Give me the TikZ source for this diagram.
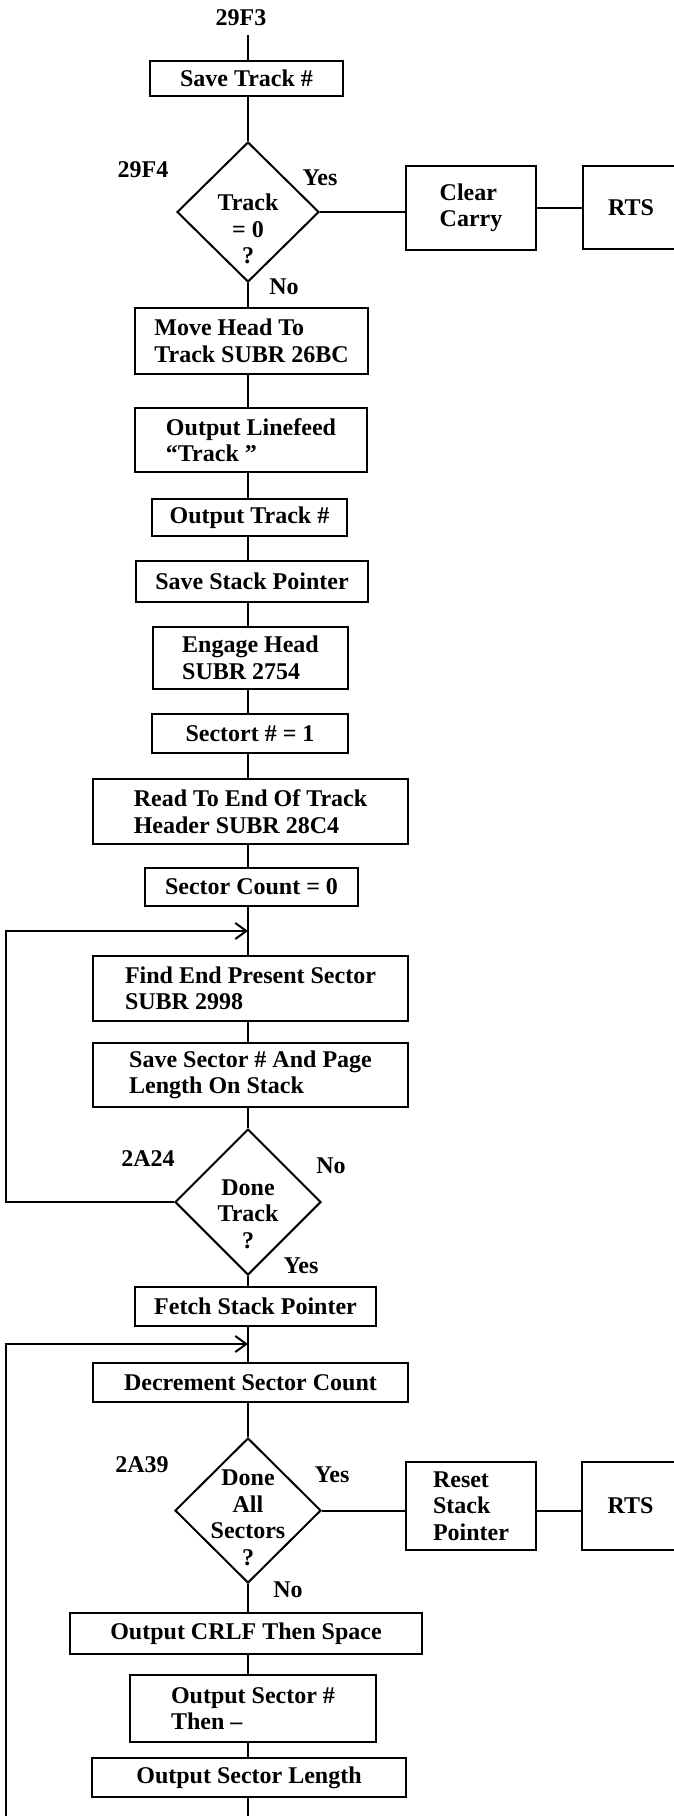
\documentclass[tikz,border=0pt]{standalone}
\usepackage{fontspec}
\setmainfont{Liberation Serif}
\usetikzlibrary{shapes.geometric,arrows.meta}
\begin{document}
\begin{tikzpicture}[x=1pt,y=-1pt,
  every node/.style={font=\bfseries\fontsize{24}{26.5}\selectfont},
  stepbox/.style={draw,line width=2pt,inner sep=0pt,align=left},
  decbox/.style={draw,shape=diamond,line width=2pt,inner sep=0pt},
  lbl/.style={inner sep=0pt,align=center},
  conn/.style={line width=2pt},
  loopar/.style={line width=2pt,-{Straight Barb[length=11pt,width=16pt,line width=2pt]}}]
\useasboundingbox (0,0) rectangle (674,1816);
\coordinate (ax) at (248,0);
% labels
\node[lbl] (l29f3) at (241,18) {29F3};
\node[lbl] (l29f4) at (143,170) {29F4};
\node[lbl] (y1) at (320,178) {Yes};
\node[lbl] (n1) at (284,287) {No};
\node[lbl] (l2a24) at (148,1159) {2A24};
\node[lbl] (n2) at (331,1166) {No};
\node[lbl] (y2) at (301,1266) {Yes};
\node[lbl] (l2a39) at (142,1465) {2A39};
\node[lbl] (y3) at (332,1475) {Yes};
\node[lbl] (n3) at (288,1590) {No};
\coordinate (top) at (248,35);
% boxes
\node[stepbox,minimum width=193,minimum height=35] (save) at (246.5,78.5) {Save Track \#};
\node[decbox,minimum width=142,minimum height=140] (d1) at (248,212) {};
\node[lbl] (d1t) at (248,229) {Track\\= 0\\?};
\node[stepbox,minimum width=130,minimum height=84] (clear) at (471,208) {Clear\\Carry};
\node[stepbox,minimum width=96,minimum height=83] (rts1) at (631,207.5) {RTS};
\node[stepbox,minimum width=233,minimum height=66] (move) at (251.5,341) {Move Head To\\Track SUBR 26BC};
\node[stepbox,minimum width=232,minimum height=64] (linefeed) at (251,440) {Output Linefeed\\“Track ”};
\node[stepbox,minimum width=195,minimum height=37] (outtrack) at (249.5,517.5) {Output Track \#};
\node[stepbox,minimum width=232,minimum height=41] (savestack) at (252,581.5) {Save Stack Pointer};
\node[stepbox,minimum width=195,minimum height=62] (engage) at (250.5,658) {Engage Head\\SUBR 2754};
\node[stepbox,minimum width=196,minimum height=39] (sectort) at (250,733.5) {Sectort \# = 1};
\node[stepbox,minimum width=315,minimum height=65] (readend) at (250.5,811.5) {Read To End Of Track\\Header SUBR 28C4};
\node[stepbox,minimum width=213,minimum height=38] (seccount) at (251.5,887) {Sector Count = 0};
\coordinate (j1) at (248,931);
\node[stepbox,minimum width=315,minimum height=65] (findend) at (250.5,988.5) {Find End Present Sector\\SUBR 2998};
\node[stepbox,minimum width=315,minimum height=64] (savesec) at (250.5,1075) {Save Sector \# And Page\\Length On Stack};
\node[decbox,minimum width=146,minimum height=146] (d2) at (248,1202) {};
\node[lbl] (d2t) at (248,1214) {Done\\Track\\?};
\coordinate (lft1) at (6,1202);
\coordinate (lft1t) at (6,931);
\node[stepbox,minimum width=241,minimum height=39] (fetch) at (255.5,1306.5) {Fetch Stack Pointer};
\coordinate (j2) at (248,1344);
\node[stepbox,minimum width=315,minimum height=39] (decr) at (250.5,1382.5) {Decrement Sector Count};
\node[decbox,minimum width=146,minimum height=145] (d3) at (248,1510.5) {};
\node[lbl] (d3t) at (248,1518) {Done\\All\\Sectors\\?};
\node[stepbox,minimum width=130,minimum height=88] (reset) at (471,1506) {Reset\\Stack\\Pointer};
\node[stepbox,minimum width=97,minimum height=88] (rts2) at (630.5,1506) {RTS};
\node[stepbox,minimum width=352,minimum height=41] (crlf) at (246,1633.5) {Output CRLF Then Space};
\node[stepbox,minimum width=246,minimum height=67] (outsec) at (253,1708.5) {Output Sector \#\\Then –};
\node[stepbox,minimum width=314,minimum height=39] (outlen) at (249,1777.5) {Output Sector Length};
\coordinate (bot) at (248,1816);
\coordinate (lft2b) at (6,1816);
\coordinate (lft2t) at (6,1344);
% connectors
\draw[conn] (top) -- (save.north -| ax);
\draw[conn] (save.south -| ax) -- (d1.north);
\draw[conn] (d1.east) -- (d1.east -| clear.west);
\draw[conn] (clear.east) -- (clear.east -| rts1.west);
\draw[conn] (d1.south) -- (move.north -| ax);
\draw[conn] (move.south -| ax) -- (linefeed.north -| ax);
\draw[conn] (linefeed.south -| ax) -- (outtrack.north -| ax);
\draw[conn] (outtrack.south -| ax) -- (savestack.north -| ax);
\draw[conn] (savestack.south -| ax) -- (engage.north -| ax);
\draw[conn] (engage.south -| ax) -- (sectort.north -| ax);
\draw[conn] (sectort.south -| ax) -- (readend.north -| ax);
\draw[conn] (readend.south -| ax) -- (seccount.north -| ax);
\draw[conn] (seccount.south -| ax) -- (findend.north -| ax);
\draw[conn] (findend.south -| ax) -- (savesec.north -| ax);
\draw[conn] (savesec.south -| ax) -- (d2.north);
\draw[loopar] (d2.west) -- (lft1) -- (lft1t) -- (j1);
\draw[conn] (d2.south) -- (fetch.north -| ax);
\draw[conn] (fetch.south -| ax) -- (decr.north -| ax);
\draw[loopar] (lft2b) -- (lft2t) -- (j2);
\draw[conn] (decr.south -| ax) -- (d3.north);
\draw[conn] (d3.east) -- (d3.east -| reset.west);
\draw[conn] (reset.east |- d3.east) -- (d3.east -| rts2.west);
\draw[conn] (d3.south) -- (crlf.north -| ax);
\draw[conn] (crlf.south -| ax) -- (outsec.north -| ax);
\draw[conn] (outsec.south -| ax) -- (outlen.north -| ax);
\draw[conn] (outlen.south -| ax) -- (bot);
\end{tikzpicture}
\end{document}
